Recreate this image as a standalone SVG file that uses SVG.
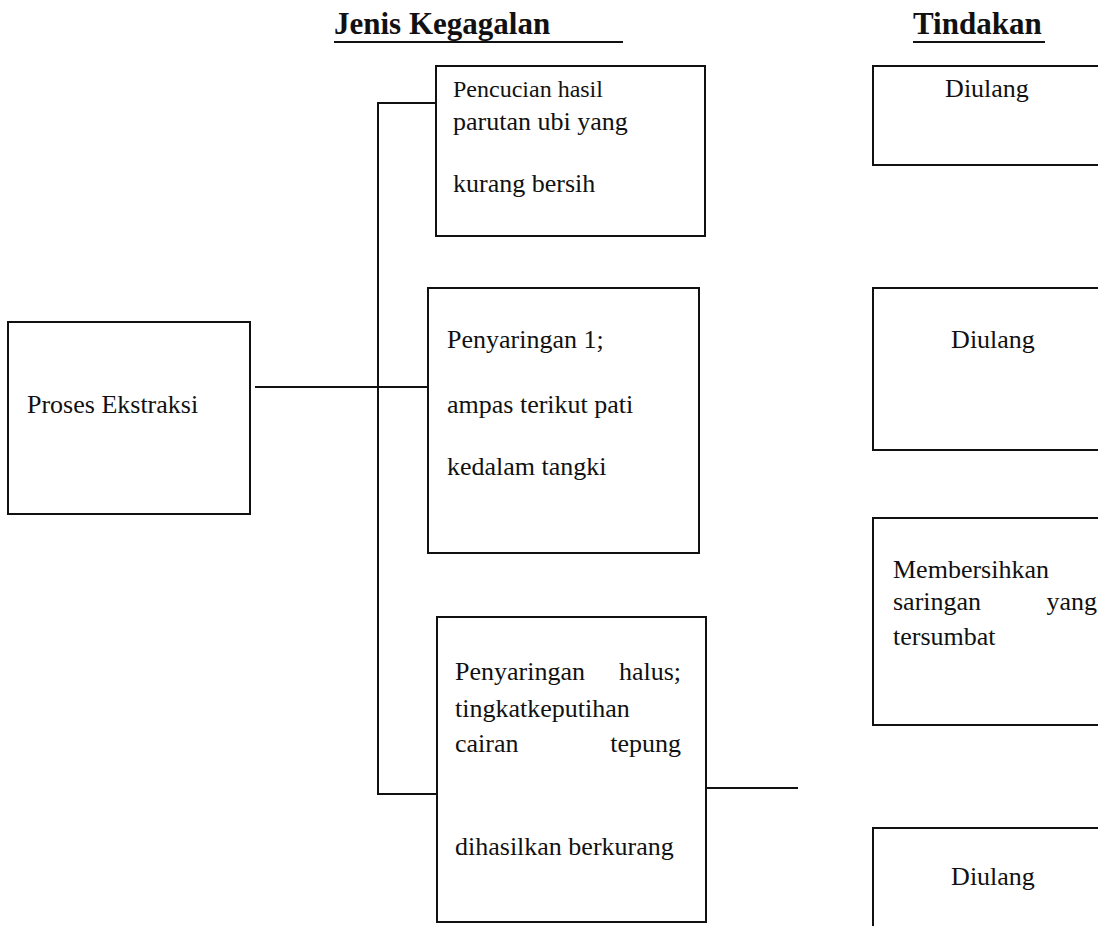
<svg xmlns="http://www.w3.org/2000/svg" width="1098" height="926" viewBox="0 0 1098 926">
<style>
.box{fill:#fff;stroke:#111;stroke-width:2}
.ln{fill:none;stroke:#111;stroke-width:2}
.t{font-family:"Liberation Serif","Times New Roman",serif;font-size:26px;fill:#111}
.s{font-size:24px}
.h{font-family:"Liberation Serif","Times New Roman",serif;font-size:31px;font-weight:bold;fill:#111}
</style>
<rect width="1098" height="926" fill="#fff"/>
<g id="titles">
<text class="h" x="334" y="34">Jenis Kegagalan</text>
<line class="ln" x1="334" y1="42" x2="623" y2="42" stroke-width="2.5"/>
<text class="h" x="913" y="34">Tindakan</text>
<line class="ln" x1="913" y1="42" x2="1045" y2="42" stroke-width="2.5"/>
</g>
<g id="connectors">
<polyline class="ln" points="436,103 378,103 378,794 437,794"/>
<line class="ln" x1="255" y1="387" x2="428" y2="387"/>
<line class="ln" x1="706" y1="788" x2="798" y2="788"/>
</g>
<g id="proses">
<rect class="box" x="8" y="322" width="242" height="192"/>
<text class="t" x="27" y="413">Proses Ekstraksi</text>
</g>
<g id="fail1">
<rect class="box" x="436" y="66" width="269" height="170"/>
<text class="t s" x="453" y="97">Pencucian hasil</text>
<text class="t" x="453" y="130">parutan ubi yang</text>
<text class="t" x="453" y="192">kurang bersih</text>
</g>
<g id="fail2">
<rect class="box" x="428" y="288" width="271" height="265"/>
<text class="t" x="447" y="348">Penyaringan 1;</text>
<text class="t" x="447" y="413">ampas terikut pati</text>
<text class="t" x="447" y="475">kedalam tangki</text>
</g>
<g id="fail3">
<rect class="box" x="437" y="617" width="269" height="305"/>
<text class="t" x="455" y="680">Penyaringan</text>
<text class="t" x="681" y="680" text-anchor="end">halus;</text>
<text class="t" x="455" y="717">tingkatkeputihan</text>
<text class="t" x="455" y="752">cairan</text>
<text class="t" x="681" y="752" text-anchor="end">tepung</text>
<text class="t" x="455" y="855">dihasilkan berkurang</text>
</g>
<g id="act1">
<rect class="box" x="873" y="66" width="240" height="99"/>
<text class="t" x="987" y="97" text-anchor="middle" font-size="23">Diulang</text>
</g>
<g id="act2">
<rect class="box" x="873" y="288" width="240" height="162"/>
<text class="t" x="993" y="348" text-anchor="middle" font-size="25">Diulang</text>
</g>
<g id="act3">
<rect class="box" x="873" y="518" width="240" height="207"/>
<text class="t" x="893" y="578">Membersihkan</text>
<text class="t" x="893" y="610">saringan</text>
<text class="t" x="1097" y="610" text-anchor="end">yang</text>
<text class="t" x="893" y="645">tersumbat</text>
</g>
<g id="act4">
<rect class="box" x="873" y="828" width="240" height="120"/>
<text class="t" x="993" y="885" text-anchor="middle" font-size="25">Diulang</text>
</g>
</svg>
